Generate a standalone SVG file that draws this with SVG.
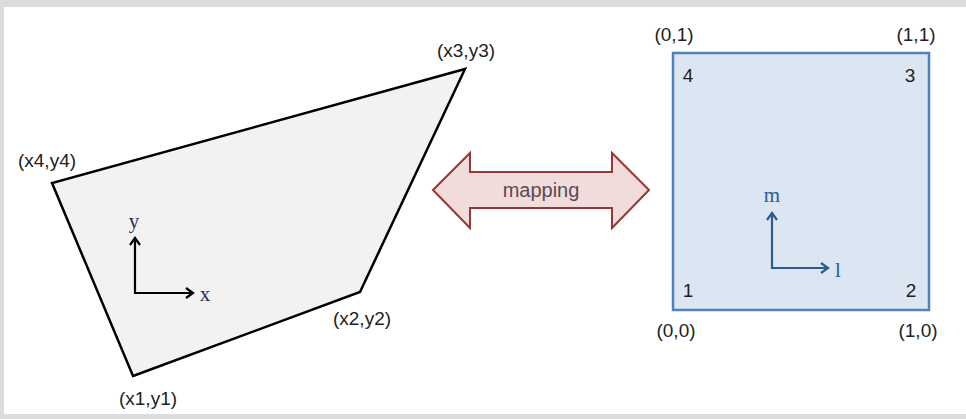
<svg xmlns="http://www.w3.org/2000/svg" width="966" height="419" viewBox="0 0 966 419">
<style>
.lbl{font-family:"Liberation Sans","Open Sans",sans-serif;font-size:19px;fill:#222;text-anchor:middle}
.ax{font-family:"Liberation Serif","DejaVu Serif",serif;font-size:21px;text-anchor:middle}
.blk{fill:none;stroke:#000;stroke-width:2.2}
.blu{fill:none;stroke:#2e5c8a;stroke-width:2.2}
</style>
<rect x="0" y="0" width="966" height="419" fill="#dcdcdc"/>
<rect x="4" y="7" width="962" height="407" fill="#fff"/>
<g id="quad">
<polygon points="133,376 360,292 465,69 52,183" fill="#f2f2f2" stroke="#000" stroke-width="2.5" stroke-linejoin="miter"/>
<text class="lbl" x="466" y="57">(x3,y3)</text>
<text class="lbl" x="47" y="167">(x4,y4)</text>
<text class="lbl" x="362" y="325">(x2,y2)</text>
<text class="lbl" x="148" y="405">(x1,y1)</text>
</g>
<g id="square">
<rect x="673" y="53" width="256" height="257" fill="#dce6f2" stroke="#4f81bd" stroke-width="2.5"/>
<text class="lbl" x="674" y="41">(0,1)</text>
<text class="lbl" x="916" y="41">(1,1)</text>
<text class="lbl" x="676" y="337">(0,0)</text>
<text class="lbl" x="918" y="337">(1,0)</text>
<text class="lbl" x="688" y="82">4</text>
<text class="lbl" x="910" y="82">3</text>
<text class="lbl" x="688" y="297">1</text>
<text class="lbl" x="911" y="297">2</text>
</g>
<g id="mapping">
<polygon points="433,190 470,153 470,172 612,172 612,153 649,190 612,228 612,208 470,208 470,228" fill="#f2dcdb" stroke="#953735" stroke-width="2"/>
<text x="541" y="197" font-family="Liberation Sans,Open Sans,sans-serif" font-size="20" fill="#5a4a55" text-anchor="middle">mapping</text>
</g>
<g id="connectors">
<polyline class="blk" points="135,239 135,293 192,293"/>
<path class="blk" d="M130,245 L135,238 L140,245 M186,288 L193,293 L186,298"/>
<polyline class="blu" points="772,214 772,268 827,268"/>
<path class="blu" d="M767,220 L772,213 L777,220 M821,263 L828,268 L821,273"/>
</g>
<g id="axislabels">
<text class="ax" x="134" y="228" fill="#1f3050">y</text>
<text class="ax" x="205" y="301" fill="#1f3050">x</text>
<text class="ax" x="772" y="202" fill="#2e5c8a">m</text>
<text class="ax" x="838" y="277" fill="#2e5c8a">l</text>
</g>
</svg>
